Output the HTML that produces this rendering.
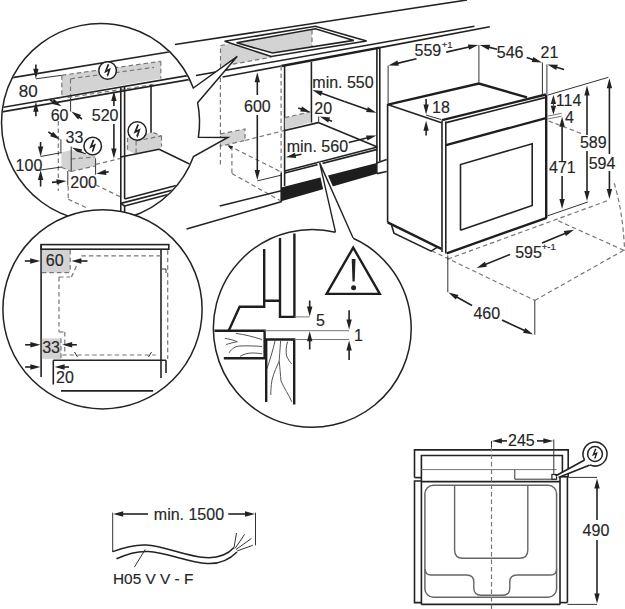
<!DOCTYPE html>
<html><head><meta charset="utf-8"><style>
html,body{margin:0;padding:0;background:#fff;}
svg{display:block;}
text{font-family:"Liberation Sans",sans-serif;fill:#262626;stroke:#262626;stroke-width:0.15px;}
.s{stroke:#222;stroke-width:1.6;fill:none;stroke-linecap:butt;stroke-linejoin:miter;}
.b{stroke:#1e1e1e;stroke-width:2.4;fill:none;stroke-linejoin:miter;}
.t{stroke:#333;stroke-width:1;fill:none;}
.g{stroke:#777;stroke-width:1;fill:none;}
.d{stroke:#777;stroke-width:1.2;fill:none;stroke-dasharray:4.5 3;}
.ah{fill:#222;stroke:none;}
</style></head><body>
<svg width="625" height="609" viewBox="0 0 625 609">
<line class="s" x1="175" y1="44.5" x2="467" y2="0" stroke-width="1.3"/>
<path class="" d="M220.5,45.5 L312,29.5 L312,47.5 L271.2,57.2 L232.8,64.2 L220.5,66 Z" fill="#d3d3d3" stroke="none"/>
<path class="d" d="M220.5,68 L220.5,45.5 L226,44.6"/>
<line class="d" x1="312" y1="30" x2="312" y2="47.5"/>
<line class="d" x1="232.8" y1="64.2" x2="271.2" y2="57.2"/>
<path d="M224.6,41.2 L315.4,26.3 L366.6,41 L271.2,56.5 Z M236.6,42.8 L272.5,53 L353.8,40.4 L315.4,28.8 Z" fill="#fff" fill-rule="evenodd" stroke="none"/>
<path class="s" d="M224.6,41.2 L315.4,26.3 L366.6,41 L271.2,56.5 Z" stroke-width="1.5"/>
<path class="s" d="M236.6,42.8 L315.4,28.8 L353.8,40.4 L272.5,53 Z" stroke-width="1.3"/>
<line class="s" x1="196" y1="75.5" x2="474.4" y2="26.2" stroke-width="1.5"/>
<line class="s" x1="222.6" y1="77" x2="281.4" y2="66" stroke-width="1.5"/>
<line class="b" x1="281.4" y1="66" x2="380" y2="47.6" stroke-width="2.2"/>
<line class="s" x1="380" y1="47.6" x2="489.8" y2="26.8" stroke-width="1.5"/>
<line class="d" x1="220.4" y1="70" x2="220.4" y2="166"/>
<line class="d" x1="231.9" y1="146" x2="231.9" y2="173.5"/>
<line class="d" x1="231.9" y1="173.5" x2="280.3" y2="200.6"/>
<line class="d" x1="228.6" y1="145.6" x2="281" y2="171.9"/>
<line class="d" x1="245" y1="140.5" x2="290" y2="129"/>
<path class="" d="M220.4,133.9 L245,129 L245,140.5 L220.4,146.2 Z" fill="#d3d3d3" stroke="none"/>
<path class="d" d="M220.4,133.9 L245,129 L245,140.5 L220.4,146.2 Z"/>
<path class="ah" d="M227.5,145.5 L232.9,146.1 L231.0,149.6 Z"/>
<line class="s" x1="257.3" y1="95" x2="257.3" y2="78.3" stroke-width="1.4"/>
<path class="ah" d="M257.3,72.3 L260.0,82.3 L254.6,82.3 Z"/>
<line class="s" x1="257.3" y1="115" x2="257.3" y2="174.0" stroke-width="1.4"/>
<path class="ah" d="M257.3,180.0 L254.6,170.0 L260.0,170.0 Z"/>
<line class="t" x1="257.3" y1="180.9" x2="281.1" y2="175.2"/>
<text x="244" y="111.7" font-size="16">600</text>
<line class="s" x1="219.7" y1="206" x2="282.3" y2="190.5" stroke-width="1.4"/>
<line class="s" x1="186.6" y1="229.1" x2="282" y2="201.5" stroke-width="1.4"/>
<line class="d" x1="281.1" y1="66" x2="281.1" y2="172"/>
<line class="s" x1="281.2" y1="172.5" x2="281.2" y2="201.2" stroke-width="1.2"/>
<line class="s" x1="284.6" y1="65" x2="284.6" y2="186" stroke-width="1.4"/>
<line class="s" x1="311.4" y1="62" x2="311.4" y2="122.6" stroke-width="1.2"/>
<line class="s" x1="376.9" y1="48.5" x2="376.9" y2="163" stroke-width="1.4"/>
<line class="s" x1="379.8" y1="48" x2="379.8" y2="161" stroke-width="1.4"/>
<path class="" d="M284.8,117.7 L310.4,111.8 L310.4,122.6 L284.8,129.5 Z" fill="#d3d3d3" stroke="none"/>
<line class="d" x1="284.8" y1="117.7" x2="310.4" y2="111.8"/>
<line class="s" x1="284.8" y1="130.5" x2="318.3" y2="122.6" stroke-width="1.3"/>
<line class="s" x1="318.3" y1="122.6" x2="377.4" y2="147" stroke-width="1.3"/>
<line class="s" x1="284.8" y1="171" x2="377.4" y2="147" stroke-width="1.2"/>
<line class="s" x1="284.8" y1="173" x2="377.4" y2="149.4" stroke-width="1.2"/>
<path class="" d="M281.2,187.4 L376.8,162.9 L376.8,173.8 L281.2,201.2 Z" fill="#1e1e1e" stroke="none"/>
<line class="s" x1="376.8" y1="162.9" x2="386.7" y2="159.6" stroke-width="1.3"/>
<line class="s" x1="376.8" y1="173.6" x2="386.7" y2="171.5" stroke-width="1.3"/>
<line class="s" x1="376.8" y1="162.9" x2="376.8" y2="173.6" stroke-width="1.3"/>
<text x="312.3" y="88.1" font-size="16">min. 550</text>
<line class="s" x1="344.4" y1="101.44999999999999" x2="318.0548359019958" y2="92.10569960898913" stroke-width="1.4"/>
<path class="ah" d="M312.4,90.1 L322.7,90.9 L320.9,96.0 Z"/>
<line class="s" x1="344.4" y1="101.44999999999999" x2="370.7451640980042" y2="110.79430039101085" stroke-width="1.4"/>
<path class="ah" d="M376.4,112.8 L366.1,112.0 L367.9,106.9 Z"/>
<text x="314.3" y="113.7" font-size="16">20</text>
<line class="s" x1="298.2" y1="107.9" x2="304.8361323403055" y2="110.21994870433446" stroke-width="1.4"/>
<path class="ah" d="M310.5,112.2 L300.2,111.4 L302.0,106.4 Z"/>
<line class="s" x1="332" y1="121.2" x2="325.39888999538" y2="118.65694942444968" stroke-width="1.4"/>
<path class="ah" d="M319.8,116.5 L330.1,117.6 L328.2,122.6 Z"/>
<line class="t" x1="318.7" y1="116.5" x2="318.7" y2="123"/>
<text x="286.7" y="152.4" font-size="16">min. 560</text>
<line class="s" x1="301.5" y1="154.3" x2="291.6933732789161" y2="156.1738777174046" stroke-width="1.4"/>
<path class="ah" d="M285.8,157.3 L295.1,152.8 L296.1,158.1 Z"/>
<line class="s" x1="348.8" y1="142.5" x2="370.579144999128" y2="137.055213750218" stroke-width="1.4"/>
<path class="ah" d="M376.4,135.6 L367.4,140.6 L366.0,135.4 Z"/>
<path d="M387.9,104.6 L478.9,83.6 L527,97.4 L545.9,94.5 L546.4,217.8 L446.7,253.4 L442.1,249.7 L387.9,222.1 Z" fill="#fff" stroke="none"/>
<line class="s" x1="387.6" y1="104" x2="387.6" y2="222.4" stroke-width="2.6"/>
<path class="b" d="M387.9,104.6 L478.9,83.6 L527,97.4"/>
<line class="s" x1="387.5" y1="104.4" x2="441.6" y2="122.8" stroke-width="1.4"/>
<path class="b" d="M442.1,120.2 L545.9,94.5" stroke-width="2.6"/>
<line class="s" x1="446.2" y1="122.6" x2="545.9" y2="97.4" stroke-width="1.1"/>
<line class="s" x1="442" y1="120.4" x2="442" y2="252" stroke-width="2.2"/>
<line class="s" x1="445.8" y1="121.5" x2="445.8" y2="253.6" stroke-width="1.2"/>
<line class="b" x1="546.2" y1="94.5" x2="546.2" y2="218" stroke-width="2.4"/>
<line class="b" x1="446" y1="145.2" x2="545.9" y2="118.1" stroke-width="3.2"/>
<path class="s" d="M460.5,230.3 L460.5,164.6 L532.2,143.7 L532.2,205.4 L460.5,230.3" stroke-width="1.5"/>
<line class="b" x1="446.7" y1="253.4" x2="546.6" y2="217.8" stroke-width="2.6"/>
<path class="b" d="M387.6,222.4 L441.4,248.8" stroke-width="2.4"/>
<path class="s" d="M391.5,225 L394,233.3 L431.2,251.2 L437,247.4" stroke-width="1.8"/>
<line class="t" x1="388.1" y1="65.5" x2="388.1" y2="104"/>
<line class="t" x1="478.9" y1="45" x2="478.9" y2="83.6"/>
<text x="414.5" y="56" font-size="16">559</text>
<text x="441.8" y="47.8" font-size="9.5">+1</text>
<line class="s" x1="416.5" y1="58.8" x2="394.23639127814334" y2="64.10840492656368" stroke-width="1.4"/>
<path class="ah" d="M388.4,65.5 L397.5,60.6 L398.8,65.8 Z"/>
<line class="s" x1="446.2" y1="52.1" x2="472.3424472571639" y2="46.29964451481676" stroke-width="1.4"/>
<path class="ah" d="M478.2,45.0 L469.0,49.8 L467.9,44.5 Z"/>
<text x="496.8" y="58" font-size="16">546</text>
<line class="s" x1="497.1" y1="49.2" x2="485.43432381188313" y2="46.40023771485195" stroke-width="1.4"/>
<path class="ah" d="M479.6,45.0 L490.0,44.7 L488.7,50.0 Z"/>
<line class="s" x1="526.7" y1="57.6" x2="536.2858889161571" y2="60.66999056791958" stroke-width="1.4"/>
<path class="ah" d="M542.0,62.5 L531.7,62.0 L533.3,56.9 Z"/>
<line class="t" x1="542.4" y1="62.5" x2="542.4" y2="94"/>
<line class="t" x1="546.9" y1="64.5" x2="546.9" y2="94"/>
<text x="540.5" y="57.8" font-size="16">21</text>
<line class="s" x1="564.1" y1="69.4" x2="553.1572897222153" y2="66.18926464903325" stroke-width="1.4"/>
<path class="ah" d="M547.4,64.5 L557.8,64.7 L556.2,69.9 Z"/>
<line class="t" x1="547.7" y1="95.1" x2="608.4" y2="77.3"/>
<text x="555.8" y="105.8" font-size="16">114</text>
<path class="ah" d="M553.4,95.1 L556.1,104.1 L550.7,104.1 Z"/>
<path class="ah" d="M553.4,114.8 L550.7,105.8 L556.1,105.8 Z"/>
<line class="t" x1="553.4" y1="100" x2="553.4" y2="108" stroke-width="1.2"/>
<text x="565" y="122.5" font-size="16">4</text>
<line class="g" x1="547.2" y1="116.2" x2="561.6" y2="113.3" stroke-width="1.1"/>
<line class="g" x1="547.2" y1="119.1" x2="561.6" y2="116.2" stroke-width="1.1"/>
<line class="d" x1="548.6" y1="121" x2="581.3" y2="133.5"/>
<line class="s" x1="562.1" y1="162" x2="562.1" y2="122.7" stroke-width="1.4"/>
<path class="ah" d="M562.1,116.7 L564.8,126.7 L559.4,126.7 Z"/>
<line class="s" x1="562.1" y1="176" x2="562.1" y2="203.0" stroke-width="1.4"/>
<path class="ah" d="M562.1,209.0 L559.4,199.0 L564.8,199.0 Z"/>
<text x="549" y="173" font-size="16">471</text>
<line class="s" x1="587" y1="135" x2="587.0" y2="91.6" stroke-width="1.4"/>
<path class="ah" d="M587.0,85.6 L589.7,95.6 L584.3,95.6 Z"/>
<line class="s" x1="587" y1="151" x2="587.0" y2="195.0" stroke-width="1.4"/>
<path class="ah" d="M587.0,201.0 L584.3,191.0 L589.7,191.0 Z"/>
<text x="579.9" y="147.5" font-size="16">589</text>
<line class="s" x1="609.4" y1="154" x2="609.4" y2="84.3" stroke-width="1.4"/>
<path class="ah" d="M609.4,78.3 L612.1,88.3 L606.7,88.3 Z"/>
<line class="s" x1="609.4" y1="171" x2="609.4" y2="193.1" stroke-width="1.4"/>
<path class="ah" d="M609.4,199.1 L606.7,189.1 L612.1,189.1 Z"/>
<text x="588.7" y="168.6" font-size="16">594</text>
<line class="t" x1="547.4" y1="215.9" x2="587.8" y2="202"/>
<line class="t" x1="426.1" y1="115.1" x2="441.4" y2="119.6"/>
<line class="s" x1="426.1" y1="99.1" x2="426.1" y2="108.4" stroke-width="1.4"/>
<path class="ah" d="M426.1,114.4 L423.4,104.4 L428.8,104.4 Z"/>
<line class="s" x1="426.1" y1="135.6" x2="426.1" y2="126.8" stroke-width="1.4"/>
<path class="ah" d="M426.1,120.8 L428.8,130.8 L423.4,130.8 Z"/>
<text x="432.1" y="112.5" font-size="16">18</text>
<line class="d" x1="447.7" y1="259.1" x2="609.4" y2="200"/>
<line class="d" x1="431.7" y1="250.8" x2="534.8" y2="300.4"/>
<line class="d" x1="534.8" y1="300.4" x2="625" y2="249.5"/>
<line class="d" x1="558.2" y1="220.8" x2="624.6" y2="250.6"/>
<path class="d" d="M614.2,183.3 Q623,212 624.6,250.6"/>
<line class="t" x1="447.8" y1="255.4" x2="447.8" y2="292.2"/>
<line class="t" x1="534.8" y1="300.4" x2="534.8" y2="334.8"/>
<text x="473.4" y="319.3" font-size="16">460</text>
<line class="s" x1="472" y1="305.5" x2="453.6459918444672" y2="295.31197004925934" stroke-width="1.4"/>
<path class="ah" d="M448.4,292.4 L458.5,294.9 L455.8,299.6 Z"/>
<line class="s" x1="502" y1="320" x2="527.7655740874351" y2="332.05696736142795" stroke-width="1.4"/>
<path class="ah" d="M533.2,334.6 L523.0,332.8 L525.3,327.9 Z"/>
<text x="515.2" y="258.2" font-size="16">595</text>
<text x="541.8" y="250.1" font-size="9.5">+-1</text>
<line class="s" x1="510" y1="254.5" x2="482.16278351653546" y2="265.7515695367297" stroke-width="1.4"/>
<path class="ah" d="M476.6,268.0 L484.9,261.7 L486.9,266.8 Z"/>
<line class="s" x1="542" y1="243" x2="568.5508579750291" y2="232.08189017849273" stroke-width="1.4"/>
<path class="ah" d="M574.1,229.8 L565.9,236.1 L563.8,231.1 Z"/>
<path d="M193.3,88 L237.3,56.3 L197.6,102.7 A99,99 0 0 1 198.4,137.2 L227.8,137.4 L193.5,156.5 A99,99 0 1 1 193.3,88 Z" fill="#fff" stroke="#222" stroke-width="1.5" stroke-linejoin="miter"/>
<clipPath id="c1"><circle cx="100.5" cy="122.5" r="98.2"/></clipPath>
<g clip-path="url(#c1)">
<line class="s" x1="0" y1="79.7" x2="200" y2="46.9" stroke-width="1.4"/>
<line class="t" x1="35.9" y1="78.8" x2="61.8" y2="75.3"/>
<path class="" d="M61.8,75.3 L160.8,61.3 L160.8,78.6 L61.8,96.1 Z" fill="#d3d3d3" stroke="none"/>
<line class="d" x1="61.8" y1="75.3" x2="160.8" y2="61.3"/>
<line class="d" x1="160.8" y1="61.3" x2="160.8" y2="78.6"/>
<line class="d" x1="61.8" y1="75.3" x2="61.8" y2="96"/>
<line class="d" x1="70.5" y1="78.8" x2="154" y2="67.3"/>
<line class="d" x1="70.5" y1="79" x2="70.5" y2="97"/>
<line class="d" x1="67.6" y1="97.5" x2="154" y2="84.6"/>
<circle cx="107.6" cy="70.5" r="8.8" fill="#fff" stroke="#222" stroke-width="1.5"/>
<path d="M108.50,64.30 L105.70,71.40 L109.50,69.50 L107.80,75.00" fill="none" stroke="#222" stroke-width="1.70" stroke-linejoin="miter"/>
<path d="M106.70,74.10 L108.70,74.70 L107.50,77.10 Z" fill="#222"/>
<line class="s" x1="0" y1="107.9" x2="200" y2="73.4" stroke-width="1.7"/>
<line class="s" x1="0" y1="112.2" x2="200" y2="77.7" stroke-width="1.7"/>
<line class="s" x1="35.9" y1="64.4" x2="35.9" y2="72.8" stroke-width="1.4"/>
<path class="ah" d="M35.9,78.8 L33.2,68.8 L38.6,68.8 Z"/>
<line class="s" x1="35.9" y1="116.2" x2="35.9" y2="107.8" stroke-width="1.4"/>
<path class="ah" d="M35.9,101.8 L38.6,111.8 L33.2,111.8 Z"/>
<line class="t" x1="35.9" y1="101.8" x2="61.8" y2="97.5"/>
<text x="18.7" y="96.8" font-size="17">80</text>
<line class="s" x1="50" y1="100" x2="56.21864875965467" y2="103.35266280955295" stroke-width="1.4"/>
<path class="ah" d="M61.5,106.2 L51.4,103.8 L54.0,99.1 Z"/>
<text x="50.7" y="120.6" font-size="16">60</text>
<line class="t" x1="70.6" y1="97.6" x2="70.6" y2="111.6"/>
<line class="s" x1="82" y1="119" x2="76.3197485020193" y2="115.03454140707007" stroke-width="1.4"/>
<path class="ah" d="M71.4,111.6 L81.1,115.1 L78.1,119.5 Z"/>
<line class="d" x1="58.3" y1="121" x2="58.3" y2="191"/>
<text x="65.5" y="142.6" font-size="16">33</text>
<line class="s" x1="48.4" y1="132" x2="54.961414020635026" y2="136.24229354782437" stroke-width="1.4"/>
<path class="ah" d="M60.0,139.5 L50.1,136.3 L53.1,131.8 Z"/>
<line class="t" x1="60.9" y1="139.2" x2="60.9" y2="152.6" stroke-width="1.2"/>
<line class="s" x1="86" y1="154.5" x2="77.38185174726573" y2="150.2524840754381" stroke-width="1.4"/>
<path class="ah" d="M72.0,147.6 L82.2,149.6 L79.8,154.4 Z"/>
<path class="" d="M61.4,152.5 L71,150 L95.3,157 L95.3,166 L71,171.5 L61.4,167.2 Z" fill="#d3d3d3" stroke="none"/>
<line class="d" x1="71" y1="159" x2="95.3" y2="157"/>
<line class="t" x1="71.2" y1="146.5" x2="71.2" y2="171.5" stroke-width="1.2"/>
<line class="d" x1="61.4" y1="167.2" x2="71" y2="171.5"/>
<line class="d" x1="71" y1="171.5" x2="95.3" y2="166"/>
<circle cx="92.7" cy="146.1" r="8.8" fill="#fff" stroke="#222" stroke-width="1.5"/>
<path d="M93.60,139.90 L90.80,147.00 L94.60,145.10 L92.90,150.60" fill="none" stroke="#222" stroke-width="1.70" stroke-linejoin="miter"/>
<path d="M91.80,149.70 L93.80,150.30 L92.60,152.70 Z" fill="#222"/>
<text x="15.6" y="171" font-size="16">100</text>
<line class="s" x1="40.6" y1="142" x2="40.6" y2="150.5" stroke-width="1.4"/>
<path class="ah" d="M40.6,156.5 L37.9,146.5 L43.3,146.5 Z"/>
<line class="s" x1="40.6" y1="186.5" x2="40.6" y2="176.0" stroke-width="1.4"/>
<path class="ah" d="M40.6,170.0 L43.3,180.0 L37.9,180.0 Z"/>
<line class="t" x1="40.6" y1="156.5" x2="61.7" y2="152.6"/>
<line class="t" x1="40.6" y1="170" x2="61.7" y2="167"/>
<text x="70.3" y="188.2" font-size="16">200</text>
<line class="s" x1="52" y1="182.4" x2="60.52777267886217" y2="181.57662884479953" stroke-width="1.4"/>
<path class="ah" d="M66.5,181.0 L56.8,184.6 L56.3,179.3 Z"/>
<line class="s" x1="108.7" y1="171.8" x2="102.12464379150023" y2="172.85205699335998" stroke-width="1.4"/>
<path class="ah" d="M96.2,173.8 L105.6,169.6 L106.5,174.9 Z"/>
<line class="t" x1="95.6" y1="158.4" x2="95.6" y2="174.7"/>
<line class="t" x1="67.8" y1="171" x2="67.8" y2="185.5" stroke-width="1.2"/>
<line class="d" x1="68.2" y1="186" x2="68.2" y2="199.2"/>
<line class="d" x1="68.2" y1="199.2" x2="87.6" y2="208.3"/>
<line class="d" x1="95.6" y1="184.8" x2="120.2" y2="196.8"/>
<line class="d" x1="95.6" y1="164.4" x2="120.6" y2="158.4"/>
<text x="91.8" y="120.8" font-size="16">520</text>
<line class="s" x1="113.9" y1="106" x2="113.9" y2="97.0" stroke-width="1.4"/>
<path class="ah" d="M113.9,91.0 L116.6,101.0 L111.2,101.0 Z"/>
<line class="s" x1="113.9" y1="124" x2="113.9" y2="152.4" stroke-width="1.4"/>
<path class="ah" d="M113.9,158.4 L111.2,148.4 L116.6,148.4 Z"/>
<line class="s" x1="120.8" y1="87.4" x2="120.8" y2="212" stroke-width="1.5"/>
<line class="s" x1="124.6" y1="86.8" x2="124.6" y2="198.9" stroke-width="1.5"/>
<line class="s" x1="151" y1="84.6" x2="151" y2="149.8" stroke-width="1.4"/>
<path class="" d="M127.5,137.8 L135,134.5 L153.4,132.6 L161.5,135.9 L161.5,146.5 L159.1,149.3 L136.1,154.1 L127.5,150.3 Z" fill="#d3d3d3" stroke="none"/>
<line class="d" x1="127.5" y1="137.8" x2="127.5" y2="150.3"/>
<line class="d" x1="136.1" y1="141" x2="136.1" y2="154.1"/>
<line class="d" x1="136.1" y1="141" x2="161.5" y2="135.9"/>
<line class="d" x1="161.5" y1="135.9" x2="161.5" y2="146.5"/>
<line class="d" x1="153.4" y1="132.6" x2="161.5" y2="135.9"/>
<circle cx="137.2" cy="131" r="9.2" fill="#fff" stroke="#222" stroke-width="1.5"/>
<path d="M138.14,124.52 L135.21,131.94 L139.19,129.95 L137.41,135.70" fill="none" stroke="#222" stroke-width="1.78" stroke-linejoin="miter"/>
<path d="M136.26,134.76 L138.35,135.39 L137.10,137.90 Z" fill="#222"/>
<line class="s" x1="120.8" y1="157" x2="159.1" y2="149.3" stroke-width="1.3"/>
<line class="s" x1="159.1" y1="149.3" x2="200" y2="169.1" stroke-width="1.3"/>
<line class="s" x1="124.6" y1="198.9" x2="176" y2="185.5" stroke-width="1.5"/>
<line class="s" x1="120.8" y1="203.4" x2="172" y2="190.3" stroke-width="1.5"/>
<line class="s" x1="124.6" y1="206" x2="168" y2="194.6" stroke-width="1.5"/>
<line class="s" x1="120.8" y1="203.4" x2="124.6" y2="206" stroke-width="1.2"/>
<line class="s" x1="124.6" y1="206" x2="124.6" y2="212" stroke-width="1.5"/>
</g>
<circle cx="102.5" cy="309.3" r="99.6" fill="#fff" stroke="#222" stroke-width="1.5"/>
<rect x="41.1" y="244.6" width="127.7" height="4.6" fill="#fff" stroke="#222" stroke-width="1.6"/>
<line class="s" x1="41.1" y1="244.6" x2="41.1" y2="377" stroke-width="1.6"/>
<line class="s" x1="161" y1="249" x2="161" y2="378" stroke-width="1.6"/>
<rect x="41.9" y="250" width="28.3" height="22.6" fill="#d3d3d3"/>
<line class="d" x1="70.2" y1="250" x2="70.2" y2="272.6"/>
<line class="d" x1="41.9" y1="272.6" x2="70.2" y2="272.6"/>
<text x="45.8" y="266" font-size="16">60</text>
<line class="s" x1="24.8" y1="261" x2="34.2" y2="261.0" stroke-width="1.4"/>
<path class="ah" d="M40.2,261.0 L30.2,263.7 L30.2,258.3 Z"/>
<line class="s" x1="87.5" y1="261" x2="77.4" y2="261.0" stroke-width="1.4"/>
<path class="ah" d="M71.4,261.0 L81.4,258.3 L81.4,263.7 Z"/>
<line class="d" x1="81.4" y1="255.8" x2="161" y2="255.8"/>
<line class="d" x1="167.7" y1="250.2" x2="167.7" y2="359"/>
<line class="d" x1="71.4" y1="277" x2="76.5" y2="266"/>
<line class="d" x1="59" y1="277" x2="70.2" y2="277"/>
<line class="d" x1="59" y1="277" x2="59" y2="332"/>
<line class="d" x1="59" y1="332" x2="64.8" y2="332"/>
<line class="d" x1="64.8" y1="332" x2="64.8" y2="355"/>
<line class="t" x1="162" y1="269" x2="166" y2="269"/>
<line class="t" x1="166" y1="269" x2="166" y2="273"/>
<rect x="41.9" y="338.4" width="19.1" height="20.5" fill="#d3d3d3"/>
<line class="d" x1="61" y1="338.4" x2="61" y2="358.9"/>
<text x="42.2" y="352.6" font-size="16">33</text>
<line class="s" x1="25.1" y1="344.8" x2="34.4" y2="344.8" stroke-width="1.4"/>
<path class="ah" d="M40.4,344.8 L30.4,347.5 L30.4,342.1 Z"/>
<line class="s" x1="76.8" y1="344.8" x2="68.2" y2="344.8" stroke-width="1.4"/>
<path class="ah" d="M62.2,344.8 L72.2,342.1 L72.2,347.5 Z"/>
<line class="d" x1="62.2" y1="355" x2="155.7" y2="355"/>
<line class="t" x1="74.5" y1="352" x2="77.5" y2="357"/>
<line class="t" x1="148.5" y1="357" x2="151.5" y2="352"/>
<line class="s" x1="53.3" y1="360.2" x2="166" y2="360.2" stroke-width="1.6"/>
<line class="s" x1="166" y1="360.2" x2="166" y2="373" stroke-width="1.6"/>
<line class="s" x1="53.3" y1="360.2" x2="53.3" y2="384.5" stroke-width="1.6"/>
<line class="s" x1="25.1" y1="367" x2="34.4" y2="367.0" stroke-width="1.4"/>
<path class="ah" d="M40.4,367.0 L30.4,369.7 L30.4,364.3 Z"/>
<line class="s" x1="69" y1="367" x2="60.6" y2="367.0" stroke-width="1.4"/>
<path class="ah" d="M54.6,367.0 L64.6,364.3 L64.6,369.7 Z"/>
<text x="56" y="383" font-size="16">20</text>
<line class="s" x1="61" y1="390.9" x2="153.1" y2="390.9" stroke-width="1.6"/>
<path d="M335.5,232.2 L319.7,162.9 L353.2,238.3" fill="#fff" stroke="#fff" stroke-width="5" stroke-linejoin="miter"/>
<path d="M335.5,232.2 L319.7,162.9 L353.2,238.3" fill="#fff" stroke="#222" stroke-width="1.4" stroke-linejoin="miter"/>
<path d="M335.5,232.2 A98.9,98.9 0 1 0 353.2,238.3" fill="#fff" stroke="#222" stroke-width="1.5"/>
<clipPath id="c3"><circle cx="312.5" cy="328.4" r="98.10000000000001"/></clipPath>
<g clip-path="url(#c3)">
<path d="M235.9,333.4 C245,334.5 254,337 262,339.5 M224.8,338.3 C229,339 233,340 237.3,341.7 C233,342.5 229.5,343.5 226.2,344.5 M229,352.9 C232,348 236,346.2 240,346 C248,345.6 255,346 262,346.5 M240.1,356.4 C244,354 248,353 252,353 C256,353 259,353.3 262,353.8" fill="none" stroke="#555" stroke-width="1"/>
<path d="M275,341 C273,350 270,360 266.8,369 M280.6,341 C280,350 279.5,356 279.2,361.3 C277,366 274,372 272,380 C271,386 270.8,391 270.8,395 M279.2,361.3 C280,368 280.4,375 281,381 C284,388 289,395 291.8,401.8 M287.6,341.7 C286,346 285.8,352 286.6,356 C288,359.5 290,362 291.8,364" fill="none" stroke="#555" stroke-width="1"/>
<path class="b" d="M213,330.7 L264.6,330.7 L264.6,358.3 L223.8,358.3" stroke-width="2.6"/>
<path class="b" d="M266.2,402 L266.2,339.5 L294.2,339.5 L294.2,404.6" stroke-width="2.6"/>
<path class="b" d="M228.7,330.7 L239.6,306.7 L264.2,306.7 L264.2,249" stroke-width="2.8"/>
<line class="b" x1="264.2" y1="300.8" x2="280" y2="300.8" stroke-width="2.6"/>
<path class="b" d="M280,238 L280,316.9 L294.4,316.9 L294.4,233.4" stroke-width="3.2"/>
<line class="g" x1="294.4" y1="316.9" x2="309.7" y2="316.9"/>
<line class="g" x1="264.6" y1="330.7" x2="349.1" y2="330.7"/>
<line class="g" x1="294.4" y1="339.5" x2="349.1" y2="339.5"/>
<line class="s" x1="309.7" y1="300.6" x2="309.7" y2="310.5" stroke-width="1.4"/>
<path class="ah" d="M309.7,316.5 L307.0,306.5 L312.4,306.5 Z"/>
<line class="s" x1="309.7" y1="349.5" x2="309.7" y2="337.3" stroke-width="1.4"/>
<path class="ah" d="M309.7,331.3 L312.4,341.3 L307.0,341.3 Z"/>
<line class="s" x1="349.1" y1="310.2" x2="349.1" y2="323.6" stroke-width="1.4"/>
<path class="ah" d="M349.1,329.6 L346.4,319.6 L351.8,319.6 Z"/>
<line class="s" x1="349.1" y1="360" x2="349.1" y2="346.5" stroke-width="1.4"/>
<path class="ah" d="M349.1,340.5 L351.8,350.5 L346.4,350.5 Z"/>
<text x="316" y="325.6" font-size="16">5</text>
<text x="354" y="340.5" font-size="16">1</text>
<path class="b" d="M353.2,247.6 L379.8,293.9 L326.6,293.9 Z" stroke-width="2.8"/>
<path d="M351.7,259 L355.5,259 L354.7,281.5 L352.5,281.5 Z" fill="#222"/>
<circle cx="353.6" cy="287.8" r="2.5" fill="#222"/>
</g>
<path class="s" d="M414.5,477.6 L414.5,449.9 L568.2,449.9 L568.2,476.8" stroke-width="1.8"/>
<line class="s" x1="414.5" y1="477.6" x2="421.4" y2="477.6" stroke-width="1.5"/>
<path class="s" d="M421.4,481 L414.5,481 L414.5,602.6 L421.4,602.6" stroke-width="1.8"/>
<path class="s" d="M421.4,604.4 L421.4,455.5 L562.4,455.5 L562.4,474" stroke-width="1.8"/>
<line class="g" x1="421.4" y1="469.6" x2="556.6" y2="469.6" stroke-width="1.5"/>
<line class="s" x1="421.4" y1="481.6" x2="560" y2="481.6" stroke-width="1.2"/>
<path class="t" d="M514.8,469.9 L514.8,479.2 L556.6,479.2"/>
<rect x="551.9" y="474.5" width="4.7" height="4.7" fill="#fff" stroke="#222" stroke-width="1.2"/>
<line class="s" x1="560" y1="476.8" x2="560" y2="604.4" stroke-width="1.8"/>
<line class="s" x1="567.4" y1="476.8" x2="567.4" y2="602.6" stroke-width="1.8"/>
<line class="s" x1="560" y1="476.8" x2="568.2" y2="476.8" stroke-width="1.4"/>
<line class="s" x1="421.4" y1="604.4" x2="560.2" y2="604.4" stroke-width="1.8"/>
<line class="s" x1="560" y1="602.6" x2="567.4" y2="602.6" stroke-width="1.4"/>
<rect x="424.9" y="485.3" width="131.7" height="112" rx="8.5" ry="8.5" fill="none" stroke="#666" stroke-width="1.5"/>
<path d="M454.6,485.3 L454.6,550 Q454.6,558.3 462.9,558.3 L519.5,558.3 Q527.8,558.3 527.8,550 L527.8,485.3" fill="none" stroke="#666" stroke-width="1.4"/>
<path d="M425.2,569 Q425.2,575 431,575 L466.6,575 Q473.8,575 473.8,582 L473.8,588 Q473.8,595.2 481,595.2 L502.6,595.2 Q509.8,595.2 509.8,588 L509.8,582 Q509.8,575 517,575 L550.6,575 Q556.6,575 556.6,569" fill="none" stroke="#666" stroke-width="1.4"/>
<line class="d" x1="491.5" y1="447" x2="491.5" y2="609"/>
<line class="s" x1="507" y1="440.9" x2="497.9" y2="440.9" stroke-width="1.4"/>
<path class="ah" d="M491.9,440.9 L501.9,438.2 L501.9,443.6 Z"/>
<line class="s" x1="537" y1="440.9" x2="547.3" y2="440.9" stroke-width="1.4"/>
<path class="ah" d="M553.3,440.9 L543.3,443.6 L543.3,438.2 Z"/>
<line class="t" x1="553.8" y1="439.5" x2="553.8" y2="474.5"/>
<line class="t" x1="491.5" y1="440.9" x2="491.5" y2="447"/>
<text x="508" y="445.5" font-size="16">245</text>
<path d="M555.5,476 L584.6,460 L589.9,464.9 L558.5,477.6 Z" fill="#fff" stroke="none"/>
<line class="s" x1="555.5" y1="476" x2="584.6" y2="460" stroke-width="1.3"/>
<line class="s" x1="558.5" y1="477.6" x2="589.9" y2="464.9" stroke-width="1.3"/>
<path d="M584.6,460 A12,12 0 1 1 589.9,464.9" fill="#fff" stroke="#222" stroke-width="1.5"/>
<circle cx="595" cy="454" r="7.4" fill="#fff" stroke="#222" stroke-width="1.5"/>
<path d="M595.76,448.79 L593.40,454.76 L596.60,453.16 L595.17,457.78" fill="none" stroke="#222" stroke-width="1.43" stroke-linejoin="miter"/>
<path d="M594.24,457.03 L595.92,457.53 L594.92,459.55 Z" fill="#222"/>
<line class="t" x1="568.2" y1="477.4" x2="597" y2="477.4"/>
<line class="t" x1="567.4" y1="604.4" x2="597" y2="604.4"/>
<line class="s" x1="597" y1="520" x2="597.0" y2="484.4" stroke-width="1.4"/>
<path class="ah" d="M597.0,478.4 L599.7,488.4 L594.3,488.4 Z"/>
<line class="s" x1="597" y1="540" x2="597.0" y2="597.6" stroke-width="1.4"/>
<path class="ah" d="M597.0,603.6 L594.3,593.6 L599.7,593.6 Z"/>
<text x="582.6" y="536" font-size="16">490</text>
<line class="t" x1="112.7" y1="512.7" x2="112.7" y2="552.1"/>
<line class="t" x1="255.5" y1="512.7" x2="255.5" y2="545.3"/>
<line class="s" x1="148" y1="514" x2="119.2" y2="514.0" stroke-width="1.4"/>
<path class="ah" d="M113.2,514.0 L123.2,511.3 L123.2,516.7 Z"/>
<line class="s" x1="228.3" y1="514" x2="249.0" y2="514.0" stroke-width="1.4"/>
<path class="ah" d="M255.0,514.0 L245.0,516.7 L245.0,511.3 Z"/>
<text x="153.8" y="519.5" font-size="16">min. 1500</text>
<path d="M112.7,551.6 C125,547 135,544.5 146,545 C165,546 185,556 205,557.5 C220,558.5 229,553 234,547.5" fill="none" stroke="#222" stroke-width="1.5"/>
<path d="M116.5,558.8 C128,553.5 137,551 148,551.5 C167,552.5 187,562 207,563.5 C222,564.5 231,558 237,552" fill="none" stroke="#222" stroke-width="1.5"/>
<path class="t" d="M234,547.5 L236.5,533"/>
<path class="t" d="M235,548.5 L244.6,534.4"/>
<path class="t" d="M236,549.5 L251.4,538.5"/>
<path class="t" d="M237,551 L252.8,545.3"/>
<line class="t" x1="145.3" y1="549.4" x2="134.4" y2="567.1"/>
<text x="113" y="583.6" font-size="15.4">H05 V V - F</text>
</svg>
</body></html>
